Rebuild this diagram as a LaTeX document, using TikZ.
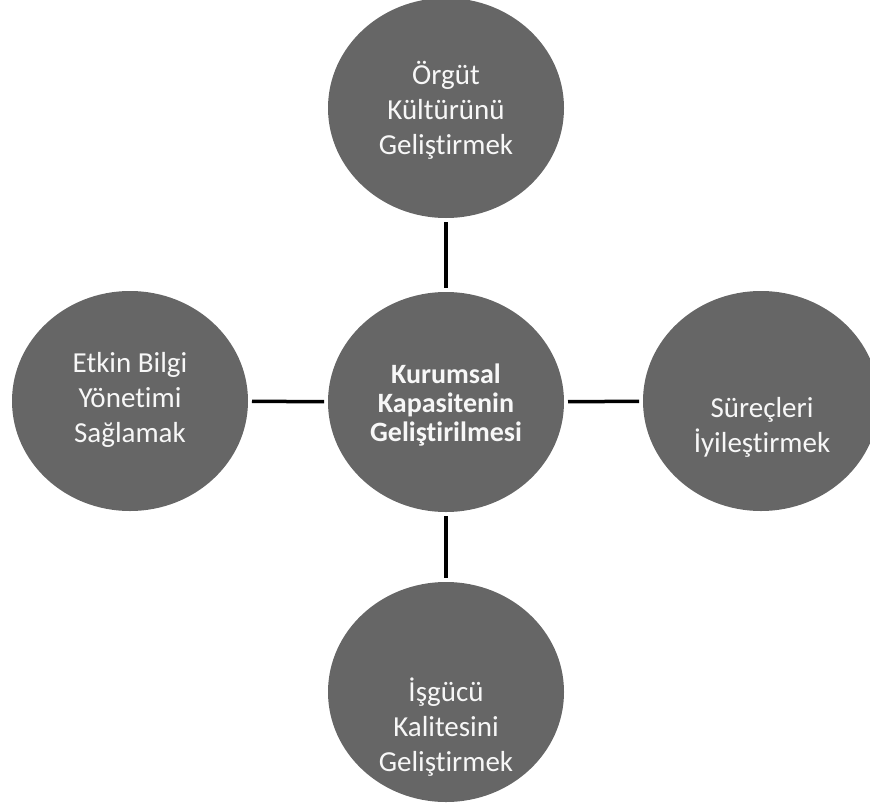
\documentclass[tikz,border=0pt]{standalone}
\usepackage{fontspec}
\setmainfont{Carlito}[Ligatures=NoCommon,RawFeature={-liga;-clig}]
\usetikzlibrary{shapes.geometric}
\definecolor{circfill}{HTML}{666666}
\definecolor{txt}{HTML}{F7F7F7}
\begin{document}
\begin{tikzpicture}[x=1pt,y=-1pt,
  bub/.style={ellipse, fill=circfill, minimum width=236pt, minimum height=220pt, inner sep=0pt, outer sep=0pt},
  lbl/.style={text=txt, align=center, font=\fontsize{29}{35}\selectfont},
  clbl/.style={text=txt, align=center, font=\bfseries\fontsize{28}{29}\selectfont},
  link/.style={line width=3.5pt, black, shorten <=4pt, shorten >=4pt}]
\useasboundingbox[fill=white] (0,0) rectangle (870,803);
\node[bub] (top) at (446,108) {};
\node[bub] (ctr) at (446,402) {};
\node[bub] (left) at (130,401) {};
\node[bub] (right) at (761,401) {};
\node[bub] (bot) at (446,692) {};
\node[lbl] (toptxt) at (446,110) {Örgüt\\Kültürünü\\Geliştirmek};
\node[clbl] (ctrtxt) at (446,405) {Kurumsal\\Kapasitenin\\Geliştirilmesi};
\node[lbl] (lefttxt) at (130,400) {Etkin Bilgi\\Yönetimi\\Sağlamak};
\node[lbl] (righttxt) at (762,427) {Süreçleri\\İyileştirmek};
\node[lbl] (bottxt) at (446,727) {İşgücü\\Kalitesini\\Geliştirmek};
\draw[link] (top) -- (ctr);
\draw[link] (ctr) -- (bot);
\draw[link] (left) -- (ctr);
\draw[link] (ctr) -- (right);
\end{tikzpicture}
\end{document}
